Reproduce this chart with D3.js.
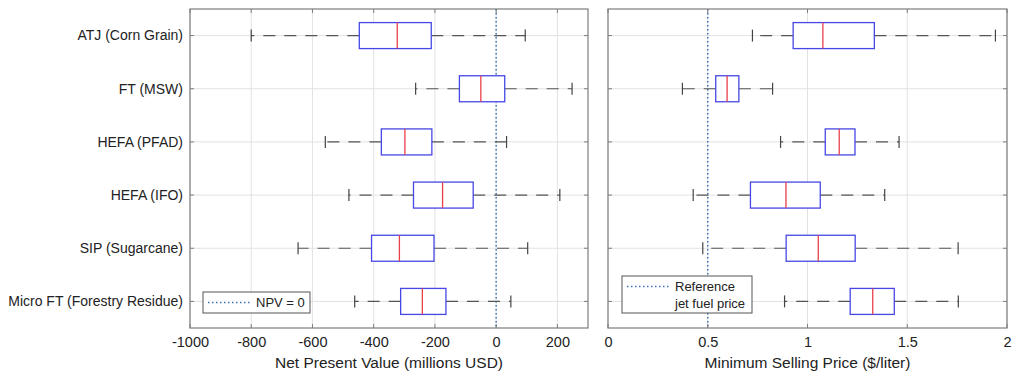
<!DOCTYPE html>
<html>
<head>
<meta charset="utf-8">
<script src="https://cdn.jsdelivr.net/npm/d3@7"></script>
<style>
body { margin: 0; background: #fff; }
text { font-family: "Liberation Sans", Arial, sans-serif; fill: #222; }
</style>
</head>
<body>
<svg width="1017" height="381"></svg>
<script>
/* global d3 */

// categories, top to bottom
var pathways = ['ATJ (Corn Grain)', 'FT (MSW)', 'HEFA (PFAD)', 'HEFA (IFO)', 'SIP (Sugarcane)', 'Micro FT (Forestry Residue)']

// net present value, millions USD: [low whisker, q1, median, q3, high whisker]
var npvLow = [-800, -263, -558, -481, -647, -462]
var npvQ1 = [-447, -120, -375, -270, -407, -312]
var npvMed = [-323, -50, -298, -175, -316, -241]
var npvQ3 = [-212, 28, -210, -75, -203, -164]
var npvHigh = [95, 248, 34, 208, 103, 48]

// minimum selling price, $/liter
var mspLow = [0.724, 0.373, 0.865, 0.427, 0.475, 0.885]
var mspQ1 = [0.928, 0.540, 1.089, 0.714, 0.893, 1.214]
var mspMed = [1.077, 0.597, 1.159, 0.892, 1.054, 1.327]
var mspQ3 = [1.335, 0.656, 1.238, 1.064, 1.239, 1.435]
var mspHigh = [1.942, 0.825, 1.459, 1.387, 1.755, 1.756]

var npvTicks = [-1000, -800, -600, -400, -200, 0, 200]
var mspTicks = [0, 0.5, 1, 1.5, 2]

var svg = d3.select('svg')
var plotTop = 9, plotBottom = 328

var y = d3.scalePoint().domain(pathways).range([plotTop, plotBottom]).padding(0.5)

// matlab prints plain hyphens, not unicode minus
var plainFmt = function(d) { return String(d) }

function panel(opts) {
	var x = d3.scaleLinear().domain(opts.domain).range([opts.x0, opts.x1])
	var g = svg.append('g')

	// grid
	g.selectAll('.vgrid').data(opts.ticks).enter().append('line')
		.attr('x1', function(d) { return x(d) }).attr('x2', function(d) { return x(d) })
		.attr('y1', plotTop).attr('y2', plotBottom)
		.attr('stroke', '#e2e2e2').attr('stroke-width', 1)
	g.selectAll('.hgrid').data(pathways).enter().append('line')
		.attr('x1', opts.x0).attr('x2', opts.x1)
		.attr('y1', function(d) { return y(d) }).attr('y2', function(d) { return y(d) })
		.attr('stroke', '#e2e2e2').attr('stroke-width', 1)

	// reference line
	g.append('line')
		.attr('x1', x(opts.ref)).attr('x2', x(opts.ref))
		.attr('y1', plotTop).attr('y2', plotBottom)
		.attr('stroke', '#3f72b5').attr('stroke-width', 1.5)
		.attr('stroke-dasharray', '1.5,2.5')

	var rows = pathways.map(function(p, i) {
		return {p: p, lo: opts.lo[i], q1: opts.q1[i], med: opts.med[i], q3: opts.q3[i], hi: opts.hi[i]}
	})
	var hb = 13, cap = 6

	var row = g.selectAll('.row').data(rows).enter().append('g')
		.attr('transform', function(d) { return 'translate(0,' + y(d.p) + ')' })

	// whiskers drawn outward from the box
	row.append('line').attr('x1', function(d) { return x(d.q1) }).attr('x2', function(d) { return x(d.lo) })
		.attr('stroke', '#555').attr('stroke-width', 1.2).attr('stroke-dasharray', '12,9')
	row.append('line').attr('x1', function(d) { return x(d.q3) }).attr('x2', function(d) { return x(d.hi) })
		.attr('stroke', '#555').attr('stroke-width', 1.2).attr('stroke-dasharray', '12,9')
	row.append('line').attr('x1', function(d) { return x(d.lo) }).attr('x2', function(d) { return x(d.lo) })
		.attr('y1', -cap).attr('y2', cap).attr('stroke', '#444').attr('stroke-width', 1.2)
	row.append('line').attr('x1', function(d) { return x(d.hi) }).attr('x2', function(d) { return x(d.hi) })
		.attr('y1', -cap).attr('y2', cap).attr('stroke', '#444').attr('stroke-width', 1.2)
	row.append('rect')
		.attr('x', function(d) { return x(d.q1) }).attr('width', function(d) { return x(d.q3) - x(d.q1) })
		.attr('y', -hb).attr('height', 2 * hb)
		.attr('fill', '#fff').attr('stroke', '#4747e6').attr('stroke-width', 1.3)
	row.append('line').attr('x1', function(d) { return x(d.med) }).attr('x2', function(d) { return x(d.med) })
		.attr('y1', -hb).attr('y2', hb).attr('stroke', '#e8404a').attr('stroke-width', 1.3)

	// frame
	g.append('rect').attr('x', opts.x0).attr('y', plotTop)
		.attr('width', opts.x1 - opts.x0).attr('height', plotBottom - plotTop)
		.attr('fill', 'none').attr('stroke', '#7d7d7d').attr('stroke-width', 1.2)

	// ticks inside, MATLAB style
	opts.ticks.forEach(function(t) {
		g.append('line').attr('x1', x(t)).attr('x2', x(t)).attr('y1', plotBottom).attr('y2', plotBottom - 4).attr('stroke', '#7d7d7d')
		g.append('line').attr('x1', x(t)).attr('x2', x(t)).attr('y1', plotTop).attr('y2', plotTop + 4).attr('stroke', '#7d7d7d')
	})
	pathways.forEach(function(p) {
		g.append('line').attr('x1', opts.x0).attr('x2', opts.x0 + 4).attr('y1', y(p)).attr('y2', y(p)).attr('stroke', '#7d7d7d')
		g.append('line').attr('x1', opts.x1).attr('x2', opts.x1 - 4).attr('y1', y(p)).attr('y2', y(p)).attr('stroke', '#7d7d7d')
	})

	var axis = d3.axisBottom(x).tickValues(opts.ticks).tickSize(0).tickPadding(9).tickFormat(plainFmt)
	var ax = g.append('g').attr('transform', 'translate(0,' + plotBottom + ')').call(axis)
	ax.select('.domain').remove()
	ax.selectAll('text').attr('font-size', 14.5).attr('font-family', '"Liberation Sans", Arial, sans-serif').attr('fill', '#222')

	g.append('text').attr('x', (opts.x0 + opts.x1) / 2).attr('y', 368)
		.attr('text-anchor', 'middle').attr('font-size', 15.5).text(opts.label)

	// legend
	var lg = g.append('g')
	lg.append('rect').attr('x', opts.lx).attr('y', opts.ly).attr('width', opts.lw).attr('height', opts.lh)
		.attr('fill', '#fff').attr('stroke', '#555').attr('stroke-width', 1)
	lg.append('line').attr('x1', opts.lx + 5).attr('x2', opts.lx + 47)
		.attr('y1', opts.ly + opts.lineY).attr('y2', opts.ly + opts.lineY)
		.attr('stroke', '#3f72b5').attr('stroke-width', 1.5).attr('stroke-dasharray', '1.5,2.5')
	opts.legend.forEach(function(s, i) {
		lg.append('text').attr('x', opts.lx + 53).attr('y', opts.ly + opts.textY + i * 17)
			.attr('font-size', 13).text(s)
	})
	return x
}

panel({
	domain: [-1000, 300], x0: 190, x1: 588, ticks: npvTicks, ref: 0,
	lo: npvLow, q1: npvQ1, med: npvMed, q3: npvQ3, hi: npvHigh,
	label: 'Net Present Value (millions USD)',
	lx: 203, ly: 292, lw: 107, lh: 21, lineY: 10.5, textY: 15, legend: ['NPV = 0']
})

panel({
	domain: [0, 2], x0: 608, x1: 1007, ticks: mspTicks, ref: 0.5,
	lo: mspLow, q1: mspQ1, med: mspMed, q3: mspQ3, hi: mspHigh,
	label: 'Minimum Selling Price ($/liter)',
	lx: 622, ly: 276, lw: 130, lh: 37, lineY: 10.5, textY: 15, legend: ['Reference', 'jet fuel price']
})

// category labels on the left panel
svg.append('g').selectAll('text').data(pathways).enter().append('text')
	.attr('x', 183).attr('y', function(d) { return y(d) })
	.attr('dy', '0.35em').attr('text-anchor', 'end').attr('font-size', 14)
	.text(function(d) { return d })
</script>
</body>
</html>
